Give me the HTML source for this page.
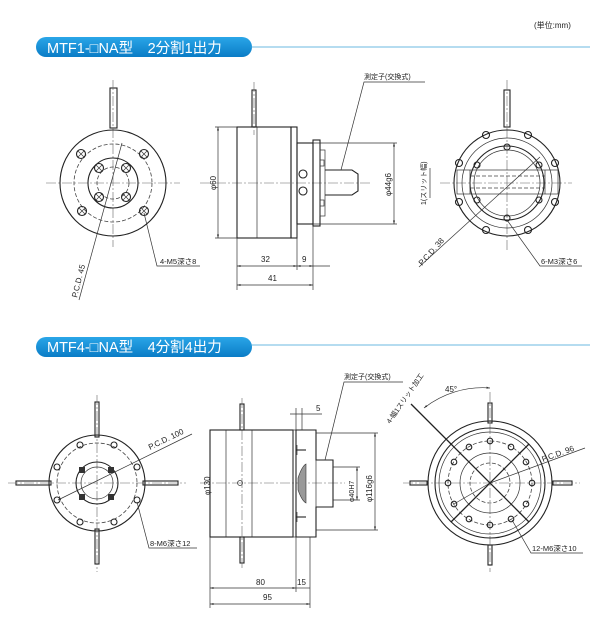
<!DOCTYPE html>
<html><head><meta charset="utf-8"><style>
html,body{margin:0;padding:0;background:#fff;}
svg{display:block;font-family:"Liberation Sans","Noto Sans CJK JP",sans-serif;font-size:8px}
.l{stroke:#222;stroke-width:1.1;fill:none}
.t{stroke:#333;stroke-width:0.7;fill:none}
.c{stroke:#666;stroke-width:0.6;fill:none;stroke-dasharray:10 2 2 2}
.d{stroke:#444;stroke-width:0.8;fill:none;stroke-dasharray:4 2}
text{fill:#222}
</style></head><body>
<svg width="600" height="625" viewBox="0 0 600 625">
<defs>
<linearGradient id="g" x1="0" y1="0" x2="0" y2="1"><stop offset="0" stop-color="#2aa6e8"/><stop offset="1" stop-color="#0a7cc6"/></linearGradient>
<marker id="a" viewBox="0 0 10 10" refX="10" refY="5" markerWidth="5" markerHeight="5" orient="auto-start-reverse"><path d="M0,2 L10,5 L0,8z" fill="#333"/></marker>
</defs>
<text x="534" y="28" font-size="8">(単位:mm)</text>
<!-- headers -->
<rect x="36" y="37" width="216" height="20" rx="10" fill="url(#g)"/>
<line x1="250" y1="47" x2="590" y2="47" stroke="#3aa0d8" stroke-width="0.8"/>
<text x="47" y="53" style="fill:#fff;font-size:14.5px">MTF1-□NA型　2分割1出力</text>
<rect x="36" y="337" width="216" height="20" rx="10" fill="url(#g)"/>
<line x1="250" y1="345" x2="590" y2="345" stroke="#3aa0d8" stroke-width="0.8"/>
<text x="47" y="352" style="fill:#fff;font-size:14.5px">MTF4-□NA型　4分割4出力</text>

<!-- TOP LEFT -->
<rect x="110" y="88" width="7" height="40" class="l"/>
<line x1="46" y1="183" x2="180" y2="183" class="c"/>
<line x1="113" y1="80" x2="113" y2="247" class="c"/>
<circle cx="113" cy="183" r="53" class="l"/>
<circle cx="113" cy="183" r="39" class="d"/>
<circle cx="113" cy="183" r="25" class="l"/>
<circle cx="113" cy="183" r="16" class="d"/>
<g class="l">
<circle cx="81" cy="154" r="4.5"/><circle cx="144" cy="154" r="4.5"/><circle cx="82" cy="211" r="4.5"/><circle cx="144" cy="211" r="4.5"/>
<circle cx="99" cy="168" r="4.5"/><circle cx="126" cy="168" r="4.5"/><circle cx="99" cy="197" r="4.5"/><circle cx="126" cy="197" r="4.5"/>
</g>
<g class="t">
<path d="M78,151l6,6M84,151l-6,6M141,151l6,6M147,151l-6,6M79,208l6,6M85,208l-6,6M141,208l6,6M147,208l-6,6"/>
<path d="M96,165l6,6M102,165l-6,6M123,165l6,6M129,165l-6,6M96,194l6,6M102,194l-6,6M123,194l6,6M129,194l-6,6"/>
</g>
<polyline points="122,143 79,300" class="t"/>
<text transform="translate(77,298) rotate(-76)">P.C.D. 45</text>
<polyline points="144,213 157,266 200,266" class="t"/>
<text x="160" y="264" font-size="7.5">4-M5深さ8</text>

<!-- TOP MIDDLE -->
<rect x="252" y="90" width="4" height="37" class="l"/>
<line x1="254" y1="82" x2="254" y2="135" class="c"/>
<line x1="200" y1="183" x2="370" y2="183" class="c"/>
<rect x="237" y="127" width="54" height="111" class="l"/>
<line x1="257" y1="127" x2="257" y2="238" class="t"/>
<rect x="291" y="127" width="6" height="111" class="l"/>
<rect x="297" y="143" width="16" height="81" class="l"/>
<rect x="313" y="140" width="7" height="86" class="l"/>
<rect x="320" y="150" width="5" height="66" class="t"/>
<rect x="320" y="160" width="4" height="6" class="t"/><rect x="320" y="200" width="4" height="6" class="t"/>
<circle cx="303" cy="174" r="4" class="l"/><circle cx="303" cy="191" r="4" class="l"/>
<path d="M325,170 H352 L358,174 V191 L352,195 H325" class="l"/>
<line x1="218" y1="127" x2="218" y2="238" class="t" marker-start="url(#a)" marker-end="url(#a)"/>
<line x1="215" y1="127" x2="237" y2="127" class="t"/><line x1="215" y1="238" x2="237" y2="238" class="t"/>
<text transform="translate(216,190) rotate(-90)">φ60</text>
<line x1="394" y1="143" x2="394" y2="224" class="t" marker-start="url(#a)" marker-end="url(#a)"/>
<line x1="313" y1="143" x2="397" y2="143" class="t"/><line x1="313" y1="224" x2="397" y2="224" class="t"/>
<text transform="translate(391,196) rotate(-90)">φ44g6</text>
<line x1="237" y1="238" x2="237" y2="290" class="t"/><line x1="297" y1="224" x2="297" y2="270" class="t"/><line x1="313" y1="226" x2="313" y2="290" class="t"/>
<line x1="237" y1="266" x2="297" y2="266" class="t" marker-start="url(#a)" marker-end="url(#a)"/>
<line x1="297" y1="266" x2="313" y2="266" class="t" marker-start="url(#a)" marker-end="url(#a)"/>
<line x1="313" y1="266" x2="330" y2="266" class="t"/>
<line x1="237" y1="285" x2="313" y2="285" class="t" marker-start="url(#a)" marker-end="url(#a)"/>
<text x="261" y="262">32</text><text x="302" y="262">9</text><text x="268" y="281">41</text>
<polyline points="425,82 364,82 341,170" class="t"/>
<text x="364" y="79" font-size="7">測定子(交換式)</text>

<!-- TOP RIGHT -->
<rect x="504" y="90" width="6" height="37" class="l"/>
<line x1="440" y1="183" x2="572" y2="183" class="c"/>
<line x1="507" y1="80" x2="507" y2="250" class="c"/>
<circle cx="507" cy="183" r="53" class="l"/>
<circle cx="507" cy="183" r="45" class="t"/>
<circle cx="507" cy="183" r="37" class="l"/>
<circle cx="507" cy="183" r="33" class="t"/>
<rect x="457" y="170" width="101" height="24" class="t"/>
<line x1="470" y1="176" x2="545" y2="176" class="d"/><line x1="470" y1="188" x2="545" y2="188" class="d"/>
<line x1="470" y1="170" x2="470" y2="194" class="t"/><line x1="545" y1="170" x2="545" y2="194" class="t"/>
<g class="l">
<circle cx="486" cy="135" r="3.5"/><circle cx="528" cy="135" r="3.5"/><circle cx="459" cy="163" r="3.5"/><circle cx="555" cy="163" r="3.5"/>
<circle cx="459" cy="202" r="3.5"/><circle cx="555" cy="202" r="3.5"/><circle cx="486" cy="230" r="3.5"/><circle cx="528" cy="230" r="3.5"/>
<circle cx="507" cy="147" r="3"/><circle cx="477" cy="165" r="3"/><circle cx="539" cy="165" r="3"/><circle cx="477" cy="200" r="3"/><circle cx="539" cy="200" r="3"/><circle cx="507" cy="218" r="3"/>
</g>
<line x1="540" y1="157" x2="419" y2="267" class="t"/>
<text transform="translate(422,266) rotate(-48)">P.C.D. 38</text>
<polyline points="507,220 540,266 582,266" class="t"/>
<text x="541" y="264" font-size="7.5">6-M3深さ6</text>
<line x1="430" y1="168" x2="430" y2="198" class="t"/>
<text transform="translate(426,205) rotate(-90)" font-size="7">1(スリット幅)</text>

<!-- BOTTOM LEFT -->
<rect x="95" y="402" width="4" height="35" class="l"/><rect x="95" y="529" width="4" height="35" class="l"/>
<rect x="16" y="481" width="35" height="4" class="l"/><rect x="143" y="481" width="35" height="4" class="l"/>
<line x1="8" y1="483" x2="186" y2="483" class="c"/><line x1="97" y1="395" x2="97" y2="572" class="c"/>
<circle cx="97" cy="483" r="48" class="l"/>
<circle cx="97" cy="483" r="40" class="d"/>
<circle cx="97" cy="483" r="21" class="l"/>
<circle cx="97" cy="483" r="16" class="t"/>
<g class="l">
<circle cx="80" cy="445" r="3"/><circle cx="114" cy="445" r="3"/><circle cx="57" cy="467" r="3"/><circle cx="137" cy="467" r="3"/>
<circle cx="57" cy="500" r="3"/><circle cx="137" cy="500" r="3"/><circle cx="80" cy="522" r="3"/><circle cx="114" cy="522" r="3"/>
</g>
<g fill="#333"><rect x="79" y="467" width="6" height="6"/><rect x="108" y="467" width="6" height="6"/><rect x="79" y="494" width="6" height="6"/><rect x="108" y="494" width="6" height="6"/></g>
<line x1="58" y1="500" x2="192" y2="434" class="t"/>
<text transform="translate(150,450) rotate(-26)">P.C.D. 100</text>
<polyline points="137,502 149,548 197,548" class="t"/>
<text x="150" y="546" font-size="7.5">8-M6深さ12</text>

<!-- BOTTOM MIDDLE -->
<rect x="240" y="404" width="4" height="26" class="l"/><rect x="240" y="537" width="4" height="26" class="l"/>
<line x1="242" y1="398" x2="242" y2="570" class="c"/>
<line x1="200" y1="483" x2="345" y2="483" class="c"/>
<rect x="210" y="430" width="83" height="107" class="l"/>
<line x1="226" y1="430" x2="226" y2="537" class="t"/><line x1="252" y1="430" x2="252" y2="537" class="t"/>
<circle cx="240" cy="483" r="2.5" class="t"/>
<rect x="293" y="430" width="3" height="107" class="t"/>
<path d="M296,430 H316 V460 H333 V507 H316 V537 H296 Z" class="l"/>
<line x1="316" y1="460" x2="316" y2="507" class="t"/>
<path d="M298,478 Q302,466 306,464 V503 Q302,501 298,490 Z" fill="#999" stroke="#333" stroke-width="0.6"/>
<line x1="296" y1="450" x2="306" y2="450" class="l"/><line x1="296" y1="517" x2="306" y2="517" class="l"/>
<line x1="297" y1="445" x2="297" y2="455" class="t"/><line x1="297" y1="512" x2="297" y2="522" class="t"/>
<line x1="375" y1="433" x2="375" y2="530" class="t" marker-start="url(#a)" marker-end="url(#a)"/>
<line x1="316" y1="433" x2="378" y2="433" class="t"/><line x1="316" y1="530" x2="378" y2="530" class="t"/>
<text transform="translate(372,502) rotate(-90)">φ116g6</text>
<line x1="357" y1="467" x2="357" y2="500" class="t" marker-start="url(#a)" marker-end="url(#a)"/>
<line x1="333" y1="467" x2="360" y2="467" class="t"/><line x1="333" y1="500" x2="360" y2="500" class="t"/>
<text transform="translate(354,502) rotate(-90)" font-size="7">φ40H7</text>
<line x1="296" y1="408" x2="296" y2="430" class="t"/><line x1="302" y1="408" x2="302" y2="430" class="t"/>
<line x1="290" y1="414" x2="322" y2="414" class="t"/>
<text x="316" y="411">5</text>
<polyline points="403,382 344,382 325,460" class="t"/>
<text x="344" y="379" font-size="7">測定子(交換式)</text>
<text transform="translate(210,495) rotate(-90)">φ130</text>
<line x1="210" y1="537" x2="210" y2="608" class="t"/><line x1="296" y1="537" x2="296" y2="592" class="t"/><line x1="310" y1="537" x2="310" y2="608" class="t"/>
<line x1="210" y1="588" x2="296" y2="588" class="t" marker-start="url(#a)" marker-end="url(#a)"/>
<line x1="296" y1="588" x2="310" y2="588" class="t"/>
<line x1="210" y1="604" x2="310" y2="604" class="t" marker-start="url(#a)" marker-end="url(#a)"/>
<text x="256" y="585">80</text><text x="297" y="585">15</text><text x="263" y="600">95</text>

<!-- BOTTOM RIGHT -->
<rect x="488" y="403" width="4" height="20" class="l"/><rect x="488" y="545" width="4" height="20" class="l"/>
<rect x="410" y="481" width="17" height="4" class="l"/><rect x="553" y="481" width="19" height="4" class="l"/>
<line x1="403" y1="483" x2="580" y2="483" class="c"/><line x1="490" y1="392" x2="490" y2="572" class="c"/>
<circle cx="490" cy="483" r="62" class="l"/>
<circle cx="490" cy="483" r="55" class="l"/>
<circle cx="490" cy="483" r="51" class="t"/>
<circle cx="490" cy="483" r="42" class="d"/>
<circle cx="490" cy="483" r="30" class="t"/>
<circle cx="490" cy="483" r="20" class="d"/>
<g class="l">
<circle cx="490" cy="441" r="2.8"/><circle cx="469" cy="447" r="2.8"/><circle cx="511" cy="447" r="2.8"/>
<circle cx="454" cy="462" r="2.8"/><circle cx="526" cy="462" r="2.8"/><circle cx="448" cy="483" r="2.8"/><circle cx="532" cy="483" r="2.8"/>
<circle cx="454" cy="504" r="2.8"/><circle cx="526" cy="504" r="2.8"/><circle cx="469" cy="519" r="2.8"/><circle cx="511" cy="519" r="2.8"/><circle cx="490" cy="525" r="2.8"/>
</g>
<line x1="411" y1="404" x2="529" y2="522" stroke="#222" stroke-width="1.3"/>
<line x1="451" y1="522" x2="529" y2="444" stroke="#222" stroke-width="1.3"/>
<line x1="490" y1="483" x2="585" y2="448" class="t"/>
<line x1="454" y1="504" x2="490" y2="483" class="t"/>
<text transform="translate(543,462) rotate(-20)">P.C.D. 96</text>
<path d="M424,408 A95,95 0 0 1 490,388" class="t" marker-start="url(#a)" marker-end="url(#a)"/>
<text x="445" y="392">45°</text>
<text transform="translate(390,424) rotate(-55)" font-size="7">4-幅1スリット加工</text>
<polyline points="512,520 531,553 583,553" class="t"/>
<text x="532" y="551" font-size="7.5">12-M6深さ10</text>
</svg>
</body></html>
